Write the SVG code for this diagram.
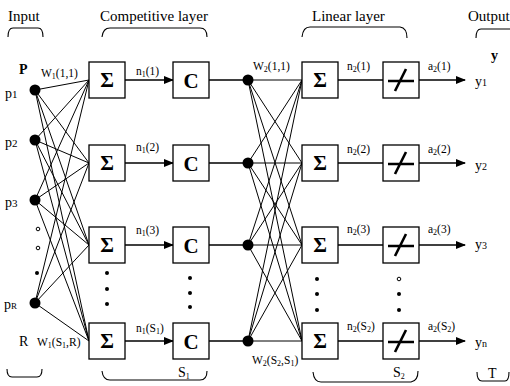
<svg xmlns="http://www.w3.org/2000/svg" width="510" height="386" viewBox="0 0 510 386">
<defs>
<marker id="ah" markerWidth="10" markerHeight="8" refX="9" refY="4" orient="auto" markerUnits="userSpaceOnUse">
<path d="M0,0 L10,4 L0,8 z" fill="#000"/>
</marker>
<style>
text{font-family:"Liberation Serif","Times New Roman",serif;fill:#000}
.hd{font-size:15px}
.lb{font-size:11.5px}
.pl{font-size:14px}
.sym{font-size:21px;font-weight:bold;text-anchor:middle}
.box{fill:#fff;stroke:#000;stroke-width:1.3}
.w{stroke:#000;stroke-width:1;fill:none}
.ln{stroke:#000;stroke-width:1.3;fill:none}
.br{stroke:#000;stroke-width:1.1;fill:none}
.sub{font-size:8px}
</style>
</defs>
<rect width="510" height="386" fill="#fff"/>

<!-- headers -->
<g id="headers">
<text class="hd" x="8" y="21">Input</text>
<text class="hd" x="100" y="21">Competitive layer</text>
<text class="hd" x="312" y="21">Linear layer</text>
<text class="hd" x="468" y="21">Output</text>
<path class="br" d="M8,37 Q8,28 13,28 L38,28 Q43,28 43,37"/>
<path class="br" d="M102,37 Q103,28 110,28 L200,28 Q207,28 207,37"/>
<path class="br" d="M302,37 Q303,27 310,27 L400,27 Q407,28 407,38"/>
<path class="br" d="M476,38 Q476,29 481,29 L510,29"/>
<path class="br" d="M7,369 Q7,377 12,377 L37,377 Q42,377 42,369"/>
<path class="br" d="M102,371 Q103,380 110,380 L200,380 Q207,380 207,371"/>
<path class="br" d="M313,372 Q314,382 321,382 L411,382 Q418,381 418,371"/>
<path class="br" d="M477,372 Q477,381 482,381 L505,381 Q509,381 509,372"/>
<text class="pl" x="178" y="377">S<tspan class="sub" dy="2">1</tspan></text>
<text class="pl" x="393" y="377">S<tspan class="sub" dy="2">2</tspan></text>
<text class="pl" x="488" y="378">T</text>
</g>

<!-- connectors -->
<g id="connectors">
<g class="w">
<path d="M35,90 L89,80 M35,90 L89,163 M35,90 L89,245 M35,90 L89,341"/>
<path d="M35,140 L89,80 M35,140 L89,163 M35,140 L89,245 M35,140 L89,341"/>
<path d="M35,200 L89,80 M35,200 L89,163 M35,200 L89,245 M35,200 L89,341"/>
<path d="M35,303 L89,80 M35,303 L89,163 M35,303 L89,245 M35,303 L89,341"/>
</g>
<g class="w">
<path d="M248,80 L302,80 M248,80 L302,163 M248,80 L302,245 M248,80 L302,341"/>
<path d="M248,163 L302,80 M248,163 L302,163 M248,163 L302,245 M248,163 L302,341"/>
<path d="M248,245 L302,80 M248,245 L302,163 M248,245 L302,245 M248,245 L302,341"/>
<path d="M248,341 L302,80 M248,341 L302,163 M248,341 L302,245 M248,341 L302,341"/>
</g>
<g class="ln">
<path d="M125,80 L173,80" marker-end="url(#ah)"/>
<path d="M125,163 L173,163" marker-end="url(#ah)"/>
<path d="M125,245 L173,245" marker-end="url(#ah)"/>
<path d="M125,341 L173,341" marker-end="url(#ah)"/>
<path d="M209,80 L248,80 M209,163 L248,163 M209,245 L248,245 M209,341 L248,341"/>
<path d="M338,80 L383,80 M338,163 L383,163 M338,245 L383,245 M338,341 L383,341"/>
<path d="M419,80 L465,80" marker-end="url(#ah)"/>
<path d="M419,163 L465,163" marker-end="url(#ah)"/>
<path d="M419,245 L465,245" marker-end="url(#ah)"/>
<path d="M419,341 L465,341" marker-end="url(#ah)"/>
</g>
</g>

<!-- input nodes -->
<g id="input">
<text class="pl" x="19" y="74" font-weight="bold">P</text>
<text class="lb" x="41" y="77">W<tspan class="sub" dy="2">1</tspan><tspan dy="-2">(1,1)</tspan></text>
<g id="p1"><circle cx="35" cy="90" r="5.5"/><text class="pl" x="5" y="98">p<tspan font-size="11">1</tspan></text></g>
<g id="p2"><circle cx="35" cy="140" r="5.5"/><text class="pl" x="5" y="147">p<tspan font-size="11">2</tspan></text></g>
<g id="p3"><circle cx="35" cy="200" r="5.5"/><text class="pl" x="5" y="207">p<tspan font-size="11">3</tspan></text></g>
<g id="pR"><circle cx="35" cy="303" r="5.5"/><text class="pl" x="4" y="309">p<tspan font-size="9">R</tspan></text></g>
<circle cx="38" cy="229" r="1.8" fill="none" stroke="#000" stroke-width="1"/>
<circle cx="38" cy="248" r="1.8" fill="none" stroke="#000" stroke-width="1"/>
<circle cx="37" cy="273" r="2"/>
<text class="pl" x="19" y="346">R</text>
<text class="lb" x="37" y="346">W<tspan class="sub" dy="2">1</tspan><tspan dy="-2">(S</tspan><tspan class="sub" dy="2">1</tspan><tspan dy="-2">,R)</tspan></text>
</g>

<!-- competitive layer sums -->
<g id="sum1-1"><rect class="box" x="89" y="62" width="36" height="36"/><text class="sym" x="107" y="87">Σ</text><text class="lb" x="136" y="75">n<tspan class="sub" dy="2">1</tspan><tspan dy="-2">(1)</tspan></text></g>
<g id="sum1-2"><rect class="box" x="89" y="145" width="36" height="36"/><text class="sym" x="107" y="170">Σ</text><text class="lb" x="136" y="151">n<tspan class="sub" dy="2">1</tspan><tspan dy="-2">(2)</tspan></text></g>
<g id="sum1-3"><rect class="box" x="89" y="227" width="36" height="36"/><text class="sym" x="107" y="252">Σ</text><text class="lb" x="136" y="234">n<tspan class="sub" dy="2">1</tspan><tspan dy="-2">(3)</tspan></text></g>
<g id="sum1-S"><rect class="box" x="89" y="323" width="36" height="36"/><text class="sym" x="107" y="348">Σ</text><text class="lb" x="136" y="332">n<tspan class="sub" dy="2">1</tspan><tspan dy="-2">(S</tspan><tspan class="sub" dy="2">1</tspan><tspan dy="-2">)</tspan></text></g>
<g id="sum1-dots"><circle cx="107" cy="273" r="2"/><circle cx="107" cy="289" r="2"/><circle cx="107" cy="304" r="2"/></g>

<!-- C boxes -->
<g id="c1"><rect class="box" x="173" y="62" width="36" height="36"/><text class="sym" x="191" y="88" font-size="23">C</text></g>
<g id="c2"><rect class="box" x="173" y="145" width="36" height="36"/><text class="sym" x="191" y="171" font-size="23">C</text></g>
<g id="c3"><rect class="box" x="173" y="227" width="36" height="36"/><text class="sym" x="191" y="253" font-size="23">C</text></g>
<g id="cS"><rect class="box" x="173" y="323" width="36" height="36"/><text class="sym" x="191" y="349" font-size="23">C</text></g>
<g id="c-dots"><circle cx="190" cy="278" r="2"/><circle cx="190" cy="293" r="2"/><circle cx="190" cy="307" r="2"/></g>

<!-- linear layer inputs -->
<g id="hidden">
<circle cx="248" cy="80" r="5.5"/><circle cx="248" cy="163" r="5.5"/><circle cx="248" cy="245" r="5.5"/><circle cx="248" cy="341" r="5.5"/>
<text class="lb" x="253" y="70">W<tspan class="sub" dy="2">2</tspan><tspan dy="-2">(1,1)</tspan></text>
<text class="lb" x="252" y="364">W<tspan class="sub" dy="2">2</tspan><tspan dy="-2">(S</tspan><tspan class="sub" dy="2">2</tspan><tspan dy="-2">,S</tspan><tspan class="sub" dy="2">1</tspan><tspan dy="-2">)</tspan></text>
</g>

<!-- linear layer sums -->
<g id="sum2-1"><rect class="box" x="302" y="62" width="36" height="36"/><text class="sym" x="320" y="87">Σ</text><text class="lb" x="347" y="70">n<tspan class="sub" dy="2">2</tspan><tspan dy="-2">(1)</tspan></text></g>
<g id="sum2-2"><rect class="box" x="302" y="145" width="36" height="36"/><text class="sym" x="320" y="170">Σ</text><text class="lb" x="347" y="153">n<tspan class="sub" dy="2">2</tspan><tspan dy="-2">(2)</tspan></text></g>
<g id="sum2-3"><rect class="box" x="302" y="227" width="36" height="36"/><text class="sym" x="320" y="252">Σ</text><text class="lb" x="347" y="233">n<tspan class="sub" dy="2">2</tspan><tspan dy="-2">(3)</tspan></text></g>
<g id="sum2-S"><rect class="box" x="302" y="323" width="36" height="36"/><text class="sym" x="320" y="348">Σ</text><text class="lb" x="347" y="330">n<tspan class="sub" dy="2">2</tspan><tspan dy="-2">(S</tspan><tspan class="sub" dy="2">2</tspan><tspan dy="-2">)</tspan></text></g>
<g id="sum2-dots"><circle cx="317" cy="279" r="2"/><circle cx="317" cy="294" r="2"/><circle cx="317" cy="310" r="2"/></g>

<!-- linear transfer boxes -->
<g id="lin1"><rect class="box" x="383" y="62" width="36" height="36"/><path d="M388,81 L414,81 M395,91 L406,69" stroke="#000" stroke-width="2.6" fill="none"/><text class="lb" x="428" y="70">a<tspan class="sub" dy="2">2</tspan><tspan dy="-2">(1)</tspan></text></g>
<g id="lin2"><rect class="box" x="383" y="145" width="36" height="36"/><path d="M388,164 L414,164 M395,174 L406,152" stroke="#000" stroke-width="2.6" fill="none"/><text class="lb" x="428" y="153">a<tspan class="sub" dy="2">2</tspan><tspan dy="-2">(2)</tspan></text></g>
<g id="lin3"><rect class="box" x="383" y="227" width="36" height="36"/><path d="M388,246 L414,246 M395,256 L406,234" stroke="#000" stroke-width="2.6" fill="none"/><text class="lb" x="428" y="233">a<tspan class="sub" dy="2">2</tspan><tspan dy="-2">(3)</tspan></text></g>
<g id="linS"><rect class="box" x="383" y="323" width="36" height="36"/><path d="M388,342 L414,342 M395,352 L406,330" stroke="#000" stroke-width="2.6" fill="none"/><text class="lb" x="428" y="330">a<tspan class="sub" dy="2">2</tspan><tspan dy="-2">(S</tspan><tspan class="sub" dy="2">2</tspan><tspan dy="-2">)</tspan></text></g>
<g id="lin-dots"><circle cx="399" cy="279" r="1.8" fill="none" stroke="#000" stroke-width="1"/><circle cx="399" cy="294" r="2"/><circle cx="399" cy="310" r="2"/></g>

<!-- outputs -->
<g id="output">
<text class="pl" x="491" y="60" font-weight="bold">y</text>
<text class="pl" x="475" y="86">y<tspan font-size="10">1</tspan></text>
<text class="pl" x="475" y="170">y<tspan font-size="10">2</tspan></text>
<text class="pl" x="475" y="249">y<tspan font-size="10">3</tspan></text>
<text class="pl" x="475" y="347">y<tspan font-size="10">n</tspan></text>
</g>
</svg>
